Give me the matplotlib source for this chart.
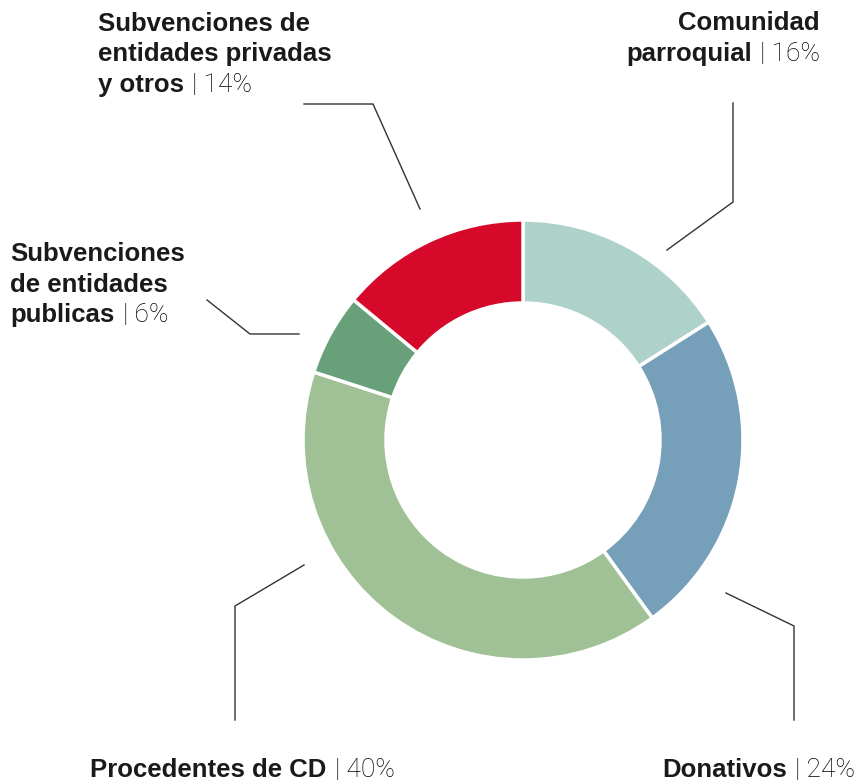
import matplotlib.pyplot as plt

# data
labels = ["Comunidad\nparroquial", "Donativos", "Procedentes de CD",
          "Subvenciones\nde entidades\npublicas",
          "Subvenciones de\nentidades privadas\ny otros"]
shares = [16, 24, 40, 6, 14]
colors = ["#aed1c9", "#769fba", "#a0c096", "#68a07a", "#d7092a"]

# label anchor (x, baseline of last line, alignment) and leader lines, in pixels
label_pos = [(820, 61, "right"), (855, 777, "right"), (90, 777, "left"),
             (10, 322, "left"), (98, 92, "left")]
leaders = [[(667, 250), (733, 202), (733, 103)],
           [(726, 593), (794, 626), (794, 720)],
           [(304, 565), (235, 606), (235, 720)],
           [(207, 300), (250, 334), (299, 334)],
           [(420, 209), (373, 104), (304, 104)]]

W, H = 858, 782
fig = plt.figure(figsize=(W / 100, H / 100), dpi=100)
ax = fig.add_axes([0, 0, 1, 1])
ax.set_xlim(0, W)
ax.set_ylim(H, 0)
ax.set_aspect("equal")
ax.axis("off")

# y axis is inverted, so counterclock in data space runs clockwise on screen
ax.pie(shares, colors=colors, center=(523, 440), radius=220,
       startangle=-90, counterclock=True,
       wedgeprops=dict(width=83, edgecolor="white", linewidth=2.5))
ax.set_xlim(0, W)
ax.set_ylim(H, 0)

for pts in leaders:
    xs, ys = zip(*pts)
    ax.plot(xs, ys, color="#333333", lw=1.0, solid_joinstyle="miter")

bold = dict(family="Liberation Sans", weight="bold", fontsize=18.5, color="#1a1a1a")
light = dict(family="Roboto", weight="light", fontsize=19, color="#000000")
line_h = 30.5

for lab, val, (x, y, ha) in zip(labels, shares, label_pos):
    lines = lab.split("\n")
    head, last = lines[:-1], lines[-1]
    for i, ln in enumerate(head):
        ax.text(x, y - line_h * (len(head) - i), ln, ha=ha, va="baseline", **bold)
    pct = "| %d%%" % val
    if ha == "left":
        t = ax.text(x, y, last, ha="left", va="baseline", **bold)
        ax.annotate(pct, xy=(1, 0), xycoords=t, xytext=(6, 0),
                    textcoords="offset points", ha="left", va="bottom", **light)
    else:
        t = ax.text(x, y, pct, ha="right", va="baseline", **light)
        ax.annotate(last, xy=(0, 0), xycoords=t, xytext=(-6, 0),
                    textcoords="offset points", ha="right", va="bottom", **bold)

fig.savefig("out.png", dpi=100, facecolor="white")
